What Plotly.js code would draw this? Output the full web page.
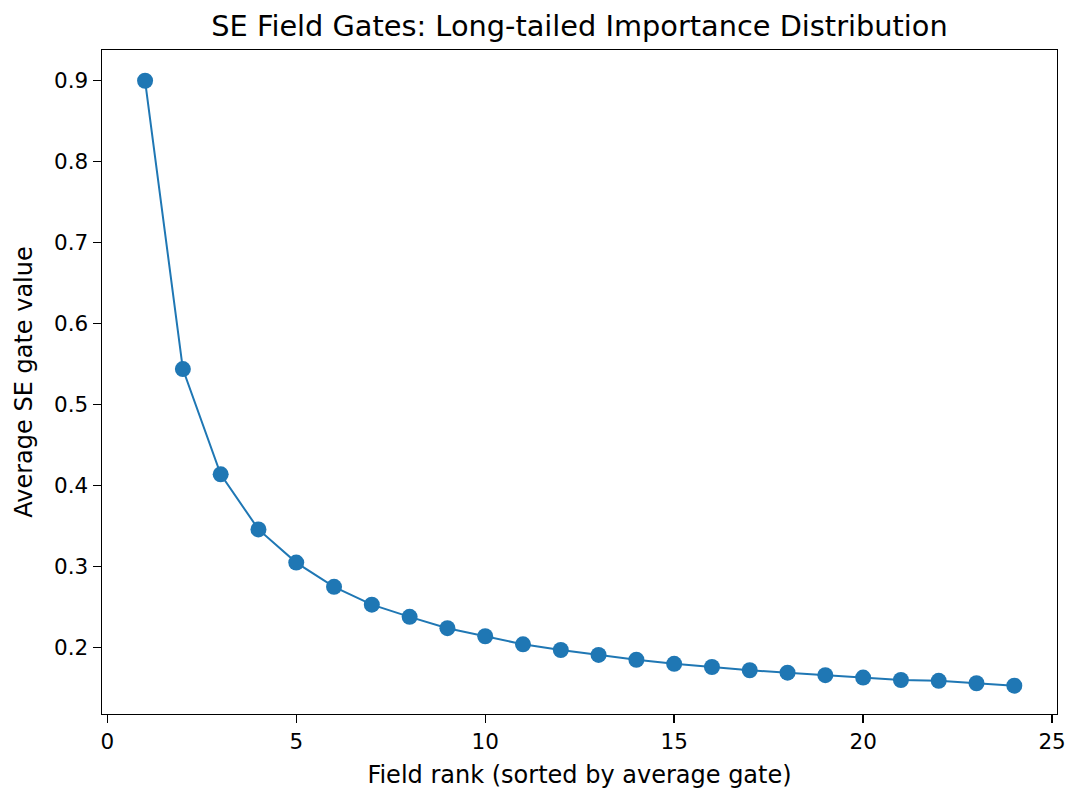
<!DOCTYPE html>
<html>
<head>
<meta charset="utf-8">
<script src="https://cdn.plot.ly/plotly-3.0.1.min.js"></script>
<style>
html,body{margin:0;padding:0;background:#fff;}
#chart{width:1070px;height:789px;}
</style>
</head>
<body>
<div id="chart"></div>
<script>
// Data
const fieldRank = [1,2,3,4,5,6,7,8,9,10,11,12,13,14,15,16,17,18,19,20,21,22,23,24];
const avgGate = [0.900,0.544,0.414,0.346,0.305,0.275,0.253,0.238,0.224,0.214,0.204,0.197,0.191,0.185,0.180,0.176,0.172,0.169,0.166,0.163,0.160,0.159,0.156,0.153];
const xTickVals = [0,5,10,15,20,25];
const yTickVals = [0.2,0.3,0.4,0.5,0.6,0.7,0.8,0.9];
const yTickText = ["0.2","0.3","0.4","0.5","0.6","0.7","0.8","0.9"];

const FONT = "DejaVu Sans, sans-serif";

const trace = {
  x: fieldRank,
  y: avgGate,
  type: "scatter",
  mode: "lines+markers",
  line: {color: "#1f77b4", width: 2},
  marker: {color: "#1f77b4", size: 16},
  hoverinfo: "x+y"
};

const axisCommon = {
  showgrid: false,
  zeroline: false,
  showline: true,
  linecolor: "#000",
  linewidth: 1.4,
  mirror: true,
  ticks: "outside",
  ticklen: 8,
  tickwidth: 1.4,
  tickcolor: "#000",
  tickfont: {family: FONT, size: 21.5, color: "#000"}
};

const layout = {
  width: 1070,
  height: 789,
  margin: {l: 102, r: 13, t: 50, b: 75},
  paper_bgcolor: "#fff",
  plot_bgcolor: "#fff",
  showlegend: false,
  font: {family: FONT, color: "#000"},
  title: {
    text: "SE Field Gates: Long-tailed Importance Distribution",
    font: {family: FONT, size: 28.8, color: "#000"},
    x: 0.5, xref: "paper",
    y: 1 - 26/789, yref: "container", yanchor: "middle"
  },
  xaxis: Object.assign({}, axisCommon, {
    range: [-0.14, 25.13],
    tickmode: "array",
    tickvals: xTickVals,
    title: {text: "Field rank (sorted by average gate)", font: {family: FONT, size: 24, color: "#000"}, standoff: 15}
  }),
  yaxis: Object.assign({}, axisCommon, {
    range: [0.118, 0.938],
    tickmode: "array",
    tickvals: yTickVals,
    ticktext: yTickText,
    title: {text: "Average SE gate value", font: {family: FONT, size: 24, color: "#000"}, standoff: 14}
  })
};

Plotly.newPlot("chart", [trace], layout, {displayModeBar: false, staticPlot: true});
</script>
</body>
</html>
